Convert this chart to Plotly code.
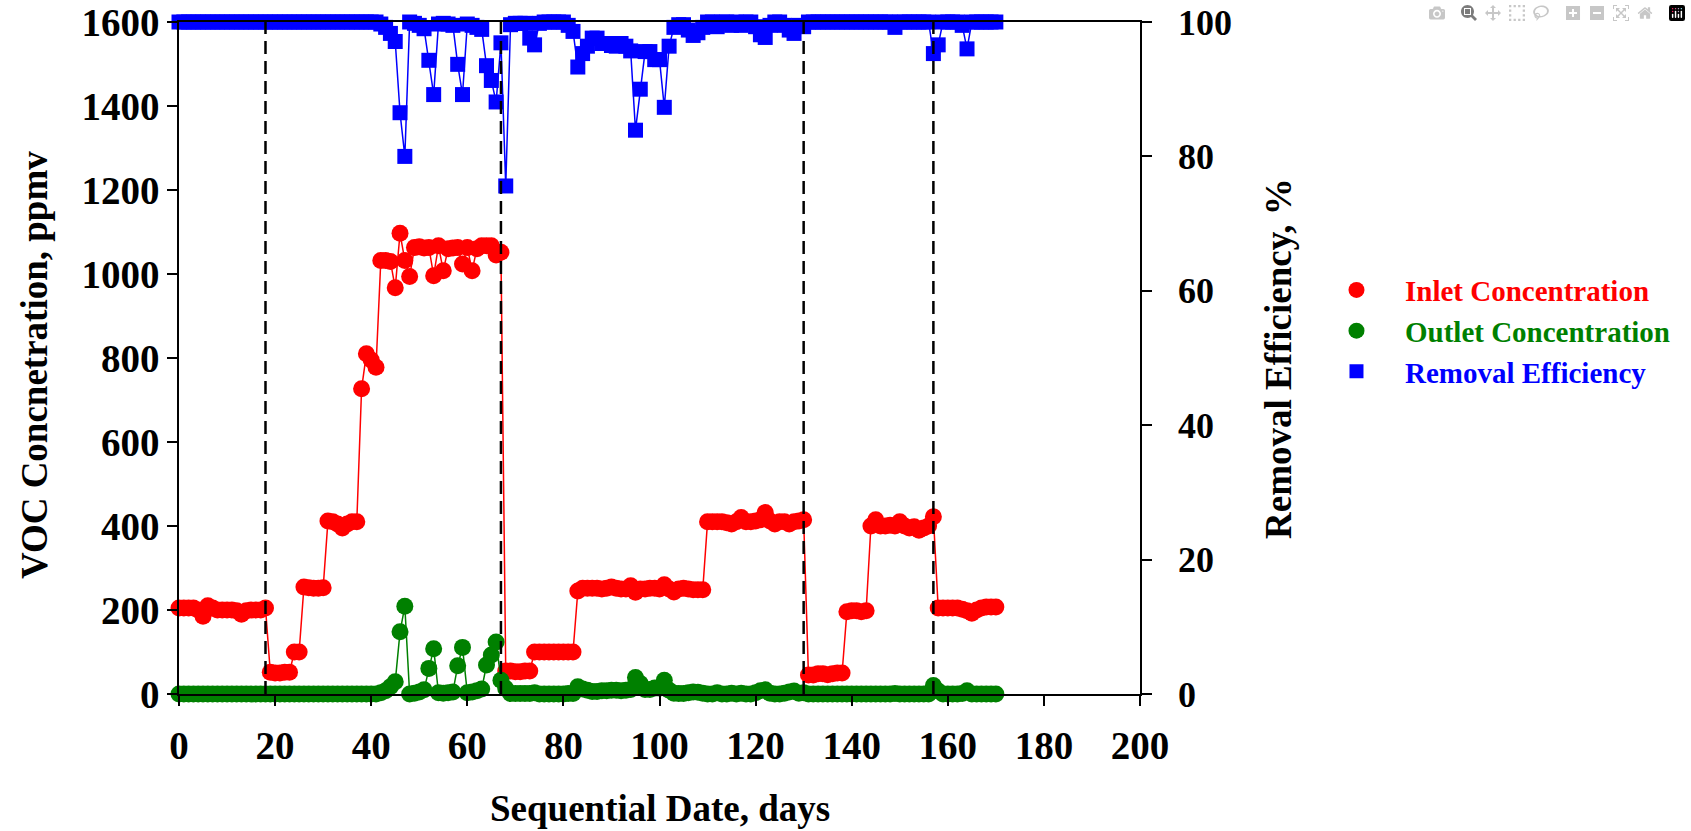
import plotly.graph_objects as go

# ---------------- data ----------------
days = list(range(0, 171))

inlet_ppmv = [
    205, 205, 205, 205, 200, 185, 210, 205, 200, 200, 200, 200, 198, 190, 198, 200, 200, 200, 205,   # 0-18
    52, 50, 50, 52, 52,                                                                              # 19-23
    100, 100,                                                                                        # 24-25
    255, 253, 252, 252, 253,                                                                         # 26-30
    412, 410, 405, 395, 405, 410, 410,                                                               # 31-37
    727, 810, 795, 778,                                                                              # 38-41
    1032, 1032, 1030, 967, 1097, 1032, 994, 1063, 1065, 1062, 1063, 996, 1067,                       # 42-54
    1008, 1060, 1062, 1063, 1024, 1063, 1008, 1060, 1067, 1067, 1067, 1045, 1052,                    # 55-67
    55, 55, 53, 53, 55, 55,                                                                          # 68-73
    100, 100, 100, 100, 100, 100, 100, 100, 100,                                                     # 74-82
    245, 252, 252, 252, 252, 250, 252, 255, 252, 250, 250, 258, 242, 250,                            # 83-96
    250, 252, 252, 250, 260, 250, 243, 250, 252, 250, 248, 248, 248,                                 # 97-109
    410, 410, 410, 410, 408, 405, 410, 420, 410, 410, 412, 415, 432, 412, 405, 410, 410, 405,        # 110-127
    410, 412, 415,                                                                                   # 128-130
    45, 45, 48, 48, 46, 48, 50, 50,                                                                  # 131-138
    196, 198, 198, 196, 198,                                                                         # 139-143
    400, 415, 400, 400, 402, 400, 410, 400, 395, 398, 390, 395, 400, 422,                            # 144-157
    205, 205, 205, 205, 205, 202, 198, 192, 200, 205, 207, 207, 207,                                 # 158-170
]

outlet_ppmv = [
    0, 0, 0, 0, 0, 0, 0, 0, 0, 0, 0, 0, 0, 0, 0, 0, 0, 0, 0, 0, 0,                                   # 0-20
    0, 0, 0, 0, 0, 0, 0, 0, 0, 0, 0, 0, 0, 0, 0, 0, 0, 0, 0, 0, 0,                                   # 21-41
    3, 8, 17, 29, 148, 209, 0, 2, 5, 10, 61, 108, 3, 2, 3, 5, 67, 111, 3, 5, 8, 12, 69, 93, 124, 33,  # 42-67
    13, 1, 1, 1, 1, 1, 3, 0, 0, 0, 0, 0, 0, 1, 1,                                                    # 68-82
    17, 12, 9, 6, 6, 8, 8, 9, 9, 8, 9, 11, 39, 25, 11, 11, 14, 14, 33, 9, 2, 1, 1, 3, 5, 4, 2,       # 83-109
    0, 0, 3, 0, 0, 2, 0, 2, 0, 0, 3, 8, 10, 2, 0, 0, 2, 5, 7, 2, 3,                                  # 110-130
    0, 0, 0, 0, 0, 0, 0, 0, 0, 0, 0, 0, 0, 0, 0, 0, 0, 0, 1, 0, 0, 0, 0, 0, 0, 0,                    # 131-156
    20, 7, 0, 0, 0, 0, 1, 8, 0, 0, 0, 0, 0, 0,                                                       # 157-170
]

removal_eff_pct = [
    100, 100, 100, 100, 100, 100, 100, 100, 100, 100, 100, 100, 100, 100, 100, 100, 100, 100, 100, 100, 100,  # 0-20
    100, 100, 100, 100, 100, 100, 100, 100, 100, 100, 100, 100, 100, 100, 100, 100, 100, 100, 100, 100, 100,  # 21-41
    99.7, 99.2, 98.3, 97.1, 86.5, 80.0, 100, 99.8, 99.5, 99.0, 94.3, 89.2, 99.7,                     # 42-54
    99.8, 99.7, 99.5, 93.7, 89.2, 99.7, 99.5, 99.2, 98.9, 93.5, 91.3, 88.1, 96.9,                    # 55-67
    75.6, 99.6, 99.8, 99.8, 99.8, 97.6, 96.6, 99.8, 100, 100, 100, 100, 100, 99.5, 98.6,             # 68-82
    93.3, 95.3, 96.4, 97.6, 97.6, 96.8, 96.8, 96.5, 96.4, 96.8, 96.4, 95.7, 83.9, 90.0,              # 83-96
    95.6, 95.6, 94.4, 94.4, 87.3, 96.4, 99.2, 99.6, 99.6, 98.8, 98.0, 98.4, 99.2,                    # 97-109
    100, 100, 99.3, 100, 100, 99.5, 100, 99.5, 100, 100, 99.3, 98.1, 97.7, 99.5, 100, 100, 99.5,     # 110-126
    98.8, 98.3, 99.5, 99.3,                                                                          # 127-130
    100, 100, 100, 100, 100, 100, 100, 100, 100, 100, 100, 100, 100, 100, 100, 100, 100, 100, 99.2,  # 131-149
    100, 100, 100, 100, 100, 100, 100,                                                               # 150-156
    95.3, 96.6, 100, 100, 100, 100, 99.5, 96.0, 100, 100, 100, 100, 100, 100,                        # 157-170
]

phase_change_days = [18, 67, 130, 157]

x_ticks = [0, 20, 40, 60, 80, 100, 120, 140, 160, 180, 200]
y_ticks = [0, 200, 400, 600, 800, 1000, 1200, 1400, 1600]
y2_ticks = [0, 20, 40, 60, 80, 100]

series_names = ["Inlet Concentration", "Outlet Concentration", "Removal Efficiency"]
series_colors = ["#ff0000", "#008000", "#0000ff"]

# ---------------- figure ----------------
FONT = "Liberation Serif, Times New Roman, serif"

fig = go.Figure()

fig.add_trace(go.Scatter(
    x=days, y=inlet_ppmv, mode="lines+markers", name=series_names[0], showlegend=False,
    line=dict(color=series_colors[0], width=1.5),
    marker=dict(symbol="circle", size=17, color=series_colors[0], line=dict(width=0)),
    cliponaxis=False, yaxis="y",
))
fig.add_trace(go.Scatter(
    x=days, y=outlet_ppmv, mode="lines+markers", name=series_names[1], showlegend=False,
    line=dict(color=series_colors[1], width=1.5),
    marker=dict(symbol="circle", size=17, color=series_colors[1], line=dict(width=0)),
    cliponaxis=False, yaxis="y",
))
fig.add_trace(go.Scatter(
    x=days, y=removal_eff_pct, mode="lines+markers", name=series_names[2], showlegend=False,
    line=dict(color=series_colors[2], width=1.5),
    marker=dict(symbol="square", size=15, color=series_colors[2], line=dict(width=0)),
    cliponaxis=False, yaxis="y2",
))

# legend-only entries (markers only, coloured text)
symbols = ["circle", "circle", "square"]
sizes = [16, 16, 14]
for name, col, sym, sz in zip(series_names, series_colors, symbols, sizes):
    fig.add_trace(go.Scatter(
        x=[None], y=[None], mode="markers",
        name=f"<span style='color:{col}'>{name}</span>",
        marker=dict(symbol=sym, size=sz, color=col, line=dict(width=0)),
        showlegend=True,
    ))

for d in phase_change_days:
    fig.add_shape(type="line", xref="x", yref="y", x0=d, x1=d, y0=0, y1=1600,
                  line=dict(color="black", width=2.5, dash="13px,7px"), layer="above")

tick_font = dict(family=FONT, size=39, color="black", weight="bold")
tick_font_right = dict(family=FONT, size=36, color="black", weight="bold")
title_font = dict(family=FONT, size=37, color="black", weight="bold")

fig.update_layout(
    width=1691, height=831,
    margin=dict(l=179, r=551, t=22, b=137, pad=0, autoexpand=False),
    paper_bgcolor="white", plot_bgcolor="white",
    font=dict(family=FONT, color="black", weight="bold"),
    xaxis=dict(
        range=[0, 200], tickvals=x_ticks, ticks="outside", ticklen=10, tickwidth=1.5,
        tickcolor="black", showline=True, linecolor="black", linewidth=1.5, mirror=True,
        showgrid=False, zeroline=False, tickfont=tick_font, automargin=False,
        ticklabelstandoff=6,
    ),
    yaxis=dict(
        range=[0, 1600], tickvals=y_ticks, ticks="outside", ticklen=10, tickwidth=1.5,
        tickcolor="black", showline=True, linecolor="black", linewidth=1.5,
        showgrid=False, zeroline=False, tickfont=tick_font, automargin=False,
    ),
    yaxis2=dict(
        range=[0, 100], tickvals=y2_ticks, ticks="outside", ticklen=10, tickwidth=1.5,
        tickcolor="black", showline=True, linecolor="black", linewidth=1.5,
        overlaying="y", side="right", anchor="x",
        showgrid=False, zeroline=False, tickfont=tick_font_right, automargin=False,
        ticklabelstandoff=19,
    ),
    legend=dict(
        x=1.1748, y=0.639, xanchor="left", yanchor="top",
        font=dict(family=FONT, size=29, weight="bold"),
        itemwidth=87, itemsizing="trace", tracegroupgap=0,
        bgcolor="rgba(0,0,0,0)",
    ),
    annotations=[
        dict(text="VOC Concnetration, ppmv", xref="paper", yref="paper", x=-0.1505, y=0.49,
             textangle=-90, showarrow=False, font=title_font, xanchor="center", yanchor="middle"),
        dict(text="Removal Efficiency, %", xref="paper", yref="paper", x=1.1436, y=0.50,
             textangle=-90, showarrow=False, font=title_font, xanchor="center", yanchor="middle"),
        dict(text="Sequential Date, days", xref="paper", yref="paper", x=0.50, y=-0.171,
             showarrow=False, font=title_font, xanchor="center", yanchor="middle"),
    ],
)

fig.write_html("out.html", post_script="document.body.style.margin='0';")
